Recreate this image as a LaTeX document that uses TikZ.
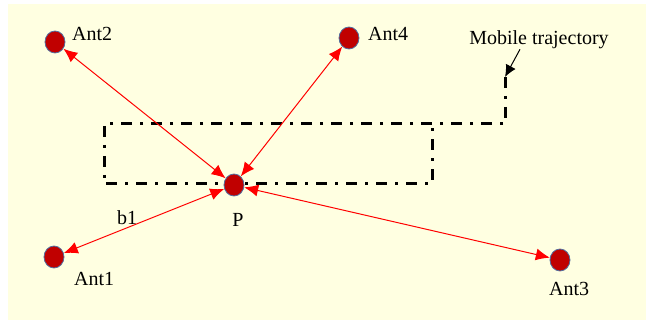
\documentclass[tikz,border=0pt]{standalone}
\usepackage{fontspec}
\setmainfont{Liberation Serif}
\newfontfamily\antfont{Liberation Serif}
\usetikzlibrary{arrows.meta, positioning, shapes.geometric}
\definecolor{PaperBg}{RGB}{255,255,225}
\definecolor{AntRed}{RGB}{192,0,0}
\definecolor{AntRim}{RGB}{79,110,160}
\tikzset{
  >=latex,
  % antenne e mobile
  ant/.style={ellipse,draw=AntRim,line width=0.8pt,fill=AntRed,minimum width=20pt,minimum height=22pt,inner sep=0},
  lbl/.style={font=\antfont\fontsize{20}{24}\selectfont,inner sep=0},
  % collegamenti
  link/.style={{Latex[length=14pt,width=12pt]}-{Latex[length=14pt,width=12pt]},red,line width=1pt},
  pointer/.style={-{Latex[length=12pt,width=11pt]},black,line width=1pt},
  track/.style={line width=3pt,dash pattern=on 11pt off 8pt on 3pt off 8pt}
}

\begin{document}
\begin{tikzpicture}[x=1pt,y=-1pt]
        \useasboundingbox (0,0) rectangle (646,320);
        \fill[PaperBg] (8,4) rectangle (646,320);
        % traiettoria
        \draw[track] (505,77) -- (505,124) -- (104,124) -- (104,184) -- (432,184) -- (432,124);
        \coordinate (trk) at (505,77);
        \node[ant] (a2) at (55,42) {};
        \node[ant] (a4) at (349,38) {};
        \node[ant] (p) at (234,185) {};
        \node[ant] (a1) at (54,257) {};
        \node[ant] (a3) at (560,260) {};
        \node[lbl,anchor=west] (l2) at (72,34) {Ant2};
        \node[lbl,anchor=west] (l4) at (368,34) {Ant4};
        \node[lbl,anchor=west] (l1) at (74,279) {Ant1};
        \node[lbl,anchor=west] (l3) at (549,289) {Ant3};
        \node[lbl,anchor=west] (lb) at (117,218) {b1};
        \node[lbl] (lp) at (238,220) {P};
        \node[lbl] (mob) at (539,40) {Mobile trajectory};
        \draw[link] (p)--(a2); \draw[link] (p)--(a4);
        \draw[link] (p)--(a1); \draw[link] (p)--(a3);
        \draw[pointer] ([xshift=-19pt]mob.south) -- (trk);
      \end{tikzpicture}
\end{document}
